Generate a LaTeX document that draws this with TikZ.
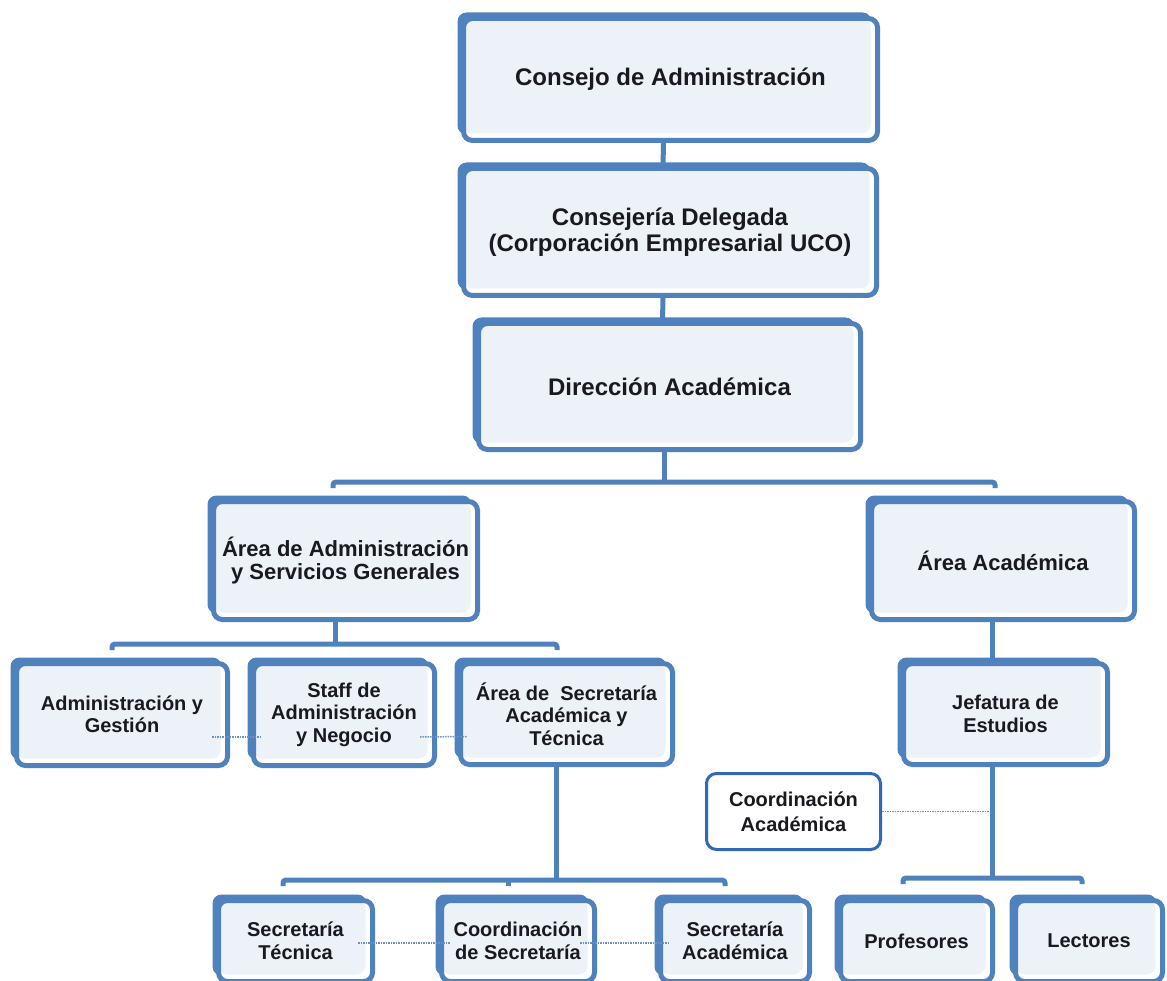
\documentclass[tikz,border=0pt]{standalone}
\usepackage{fontspec}
\setmainfont{Liberation Sans}
\usetikzlibrary{calc}
\definecolor{bl}{RGB}{79,129,189}
\definecolor{bf}{RGB}{237,241,248}
\definecolor{dl}{RGB}{110,145,195}
\definecolor{tx}{RGB}{25,25,30}
\definecolor{cb}{RGB}{50,105,180}
\pgfdeclarelayer{background}
\pgfsetlayers{background,main}
\tikzset{
  box/.style={rectangle, rounded corners=9pt, draw=bl, line width=5pt, fill=white,
    align=center, text=tx, inner sep=2pt,
    preaction={fill=bl, transform canvas={shift={(-6pt,6pt)}}},
    path picture={\fill[bf] (path picture bounding box.north west) rectangle ([shift={(-7pt,7pt)}]path picture bounding box.south east);}},
  tone/.style={font=\fontsize{24}{25.5}\selectfont\bfseries},
  ttwo/.style={font=\fontsize{22}{23.5}\selectfont\bfseries},
  tthree/.style={font=\fontsize{20}{22.5}\selectfont\bfseries},
  plainbox/.style={rectangle, rounded corners=10pt, draw=cb, line width=3pt, fill=white,
    align=center, text=tx, font=\fontsize{20}{25}\selectfont\bfseries},
  conn/.style={draw=bl, line width=5pt, rounded corners=3pt},
  dotline/.style={draw=dl, line width=1.5pt, dash pattern=on 1.5pt off 1pt}
}
\begin{document}
\begin{tikzpicture}[x=1pt,y=-1pt]
\useasboundingbox (0,0) rectangle (1167,981);
% level 1
\node[box,tone,minimum width=414pt,minimum height=122pt] (cons) at (670.5,79.5) {Consejo de Administración};
\node[box,tone,minimum width=413pt,minimum height=127pt] (deleg) at (670,232) {Consejería Delegada\\(Corporación Empresarial UCO)};
\node[box,tone,minimum width=382pt,minimum height=126pt] (dir) at (669.5,386.5) {Dirección Académica};
% level 2
\node[box,ttwo,minimum width=264pt,minimum height=118pt] (adm) at (345.5,560.5) {Área de Administración\\y Servicios Generales};
\node[box,ttwo,minimum width=263pt,minimum height=118pt] (acad) at (1003,560.5) {Área Académica};
% level 3
\node[box,tthree,minimum width=211pt,minimum height=102pt] (gest) at (122,714.5) {Administración y\\Gestión};
\node[box,tthree,minimum width=181pt,minimum height=102pt] (staff) at (344,714.5) {Staff de\\Administración\\y Negocio};
\node[box,tthree,minimum width=212pt,minimum height=101pt] (secr) at (566.5,714) {Área de\ \ Secretaría\\Académica y\\Técnica};
\node[box,tthree,minimum width=204pt,minimum height=101pt] (jef) at (1005.5,714) {Jefatura de\\Estudios};
\node[plainbox,minimum width=174pt,minimum height=76pt] (coorda) at (793.5,811.5) {Coordinación\\Académica};
% level 4
\node[box,tthree,minimum width=154pt,minimum height=81pt] (stec) at (295.5,941) {Secretaría\\Técnica};
\node[box,tthree,minimum width=153pt,minimum height=81pt] (csec) at (518,941) {Coordinación\\de Secretaría};
\node[box,tthree,minimum width=149pt,minimum height=81pt] (sacad) at (735,941) {Secretaría\\Académica};
\node[box,tthree,minimum width=152pt,minimum height=81pt] (prof) at (916.5,941) {Profesores};
\node[box,tthree,minimum width=147pt,minimum height=81pt] (lect) at (1089,941) {Lectores};
% bus coordinates
\coordinate (b1) at (664,482);
\coordinate (b1l) at (333,488);
\coordinate (b1r) at (995,488);
\coordinate (b2) at (335,644);
\coordinate (b2l) at (112,650);
\coordinate (b2r) at (557,650);
\coordinate (b3) at (556,880);
\coordinate (b3l) at (283,886);
\coordinate (b3m) at (508,886);
\coordinate (b3r) at (725,886);
\coordinate (b4) at (992,878);
\coordinate (b4l) at (903,884);
\coordinate (b4r) at (1082,884);
\coordinate (jv) at ($(jef.south)+(-13.5,0)$);
\begin{pgfonlayer}{background}
\draw[conn] ([xshift=-7pt]cons.south) -- ([xshift=-7pt]deleg.north);
\draw[conn] ([xshift=-7pt]deleg.south) -- ([xshift=-7pt]dir.north);
\draw[conn] ([xshift=-5.5pt]dir.south) -- (b1);
\draw[conn] (b1l) |- (b1) -| (b1r);
\draw[conn] ([xshift=-10.5pt]adm.south) -- (b2);
\draw[conn] (b2l) |- (b2) -| (b2r);
\draw[conn] ([xshift=-10.5pt]secr.south) -- (b3);
\draw[conn] (b3l) |- (b3) -| (b3r);
\draw[conn] (b3m) -- (b3m |- b3);
\draw[conn] (jv |- acad.south) -- (jv |- jef.north);
\draw[conn] (jv) -- (b4);
\draw[conn] (b4l) |- (b4) -| (b4r);
\end{pgfonlayer}
% dotted relations
\draw[dotline] ($(gest.east)+(-18,22.5)$) -- ($(staff.west)+(11,22.5)$);
\draw[dotline] ($(staff.east)+(-17,22.5)$) -- ($(secr.west)+(9,22.5)$);
\draw[dotline] ($(stec.east)+(-17,2)$) -- ($(csec.west)+(11,2)$);
\draw[dotline] ($(csec.east)+(-17,2)$) -- ($(sacad.west)+(12,2)$);
\draw[dotline] (coorda.east) -- (jv |- coorda.east);
\end{tikzpicture}
\end{document}
